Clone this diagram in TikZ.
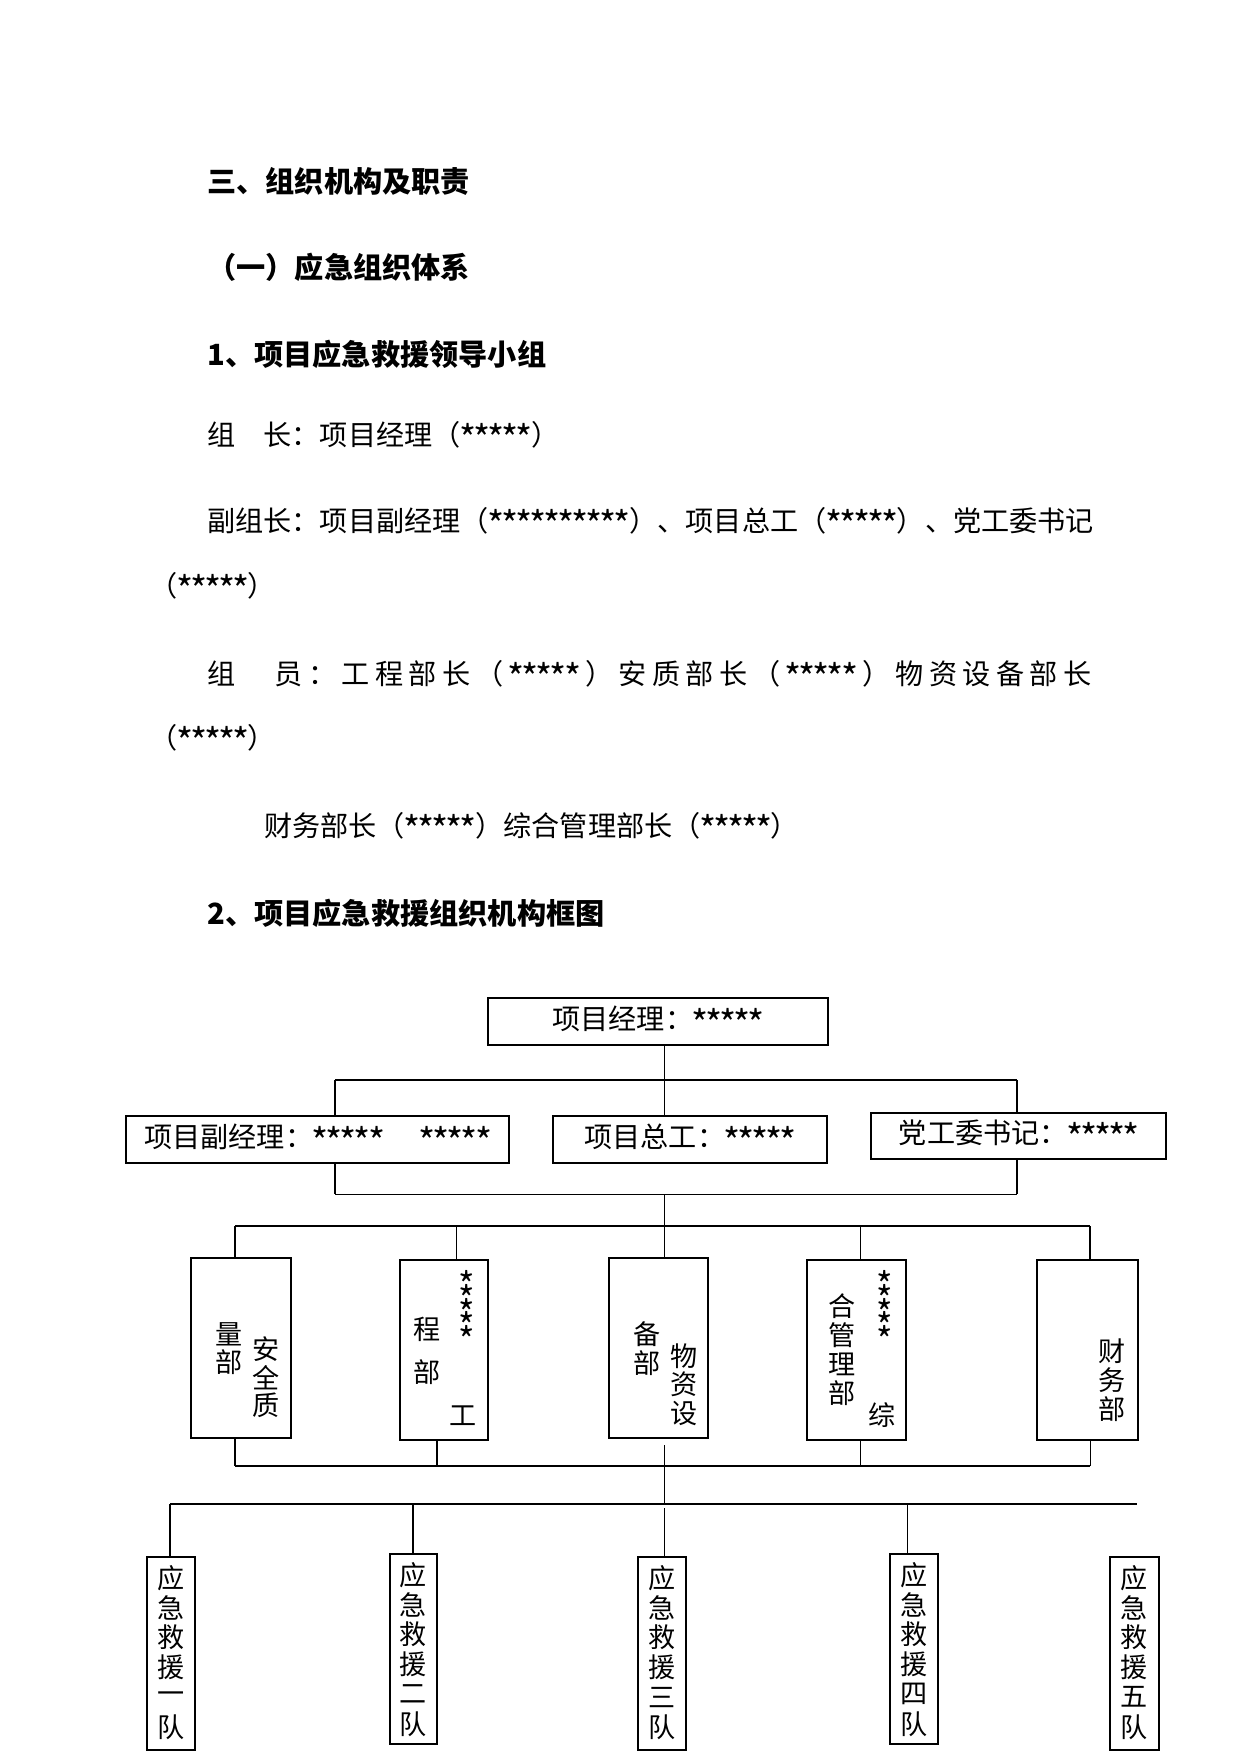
\documentclass[tikz,border=0pt]{standalone}
\usepackage{fontspec}
\setmainfont{Noto Sans CJK SC}
\usetikzlibrary{fit}
\newdimen\pxu \pxu=0.4797pt
\newcommand\xing{\makebox[.5em]{\raisebox{-.28em}{\scalebox{1.3}{*}}}}
\newcommand\wuxing{\xing\xing\xing\xing\xing}
\newcommand\sx{\hbox to .5em{\hss\smash{\raisebox{-.45em}{\scalebox{1.3}{*}}}\hss}}
\newcommand\shuxing{\vbox{\offinterlineskip\sx\vskip6.6pt\sx\vskip6.6pt\sx\vskip6.6pt\sx\vskip6.6pt\sx}}
\begin{document}
\begin{tikzpicture}[
    x=0.4797pt,
    y=-0.4797pt,
    body/.style={anchor=west, inner sep=0pt, font=\fontsize{13.5pt}{16pt}\selectfont},
    head/.style={body, font=\fontsize{14pt}{16pt}\selectfont\bfseries},
    box/.style={draw, line width=0.8pt, inner sep=0pt},
    boxtext/.style={inner sep=0pt, font=\fontsize{13.5pt}{16pt}\selectfont},
    zi/.style={inner sep=0pt, font=\fontsize{13pt}{14pt}\selectfont},
    heavy/.style={line width=0.85pt},
    mid/.style={line width=0.7pt},
    light/.style={line width=0.45pt}
  ]
    \useasboundingbox (0,0) rectangle (1241,1754);
    \node[head] (t1) at (207,181) {三、组织机构及职责};
    \node[head] (t2) at (207,267) {（一）应急组织体系};
    \node[head] (t3) at (207,354) {1、项目应急救援领导小组};
    \node[body] (t4) at (207,437) {组　长：项目经理（\wuxing）};
    \node[body] (t5) at (207,523) {副组长：项目副经理（\wuxing\wuxing）、项目总工（\wuxing）、党工委书记};
    \node[body] (t6) at (149,588) {（\wuxing）};
    \node[body] (t7) at (207,676) {\spaceskip=0pt plus 1fil\makebox[884\pxu][s]{组 　 员 ： 工 程 部 长 （ \wuxing{} ） 安 质 部 长 （ \wuxing{} ） 物 资 设 备 部 长}};
    \node[body] (t8) at (149,740) {（\wuxing）};
    \node[body] (t9) at (264,828) {财务部长（\wuxing）综合管理部长（\wuxing）};
    \node[head] (t10) at (207,913) {2、项目应急救援组织机构框图};

    \node[box, fit={(488,998) (828,1045)}] (pm) {};
    \node[box, fit={(126,1116) (509,1163)}] (fj) {};
    \node[box, fit={(553,1116) (827,1163)}] (zg) {};
    \node[box, fit={(871,1113) (1166,1159)}] (dw) {};
    \node[boxtext] (pm-t) at (pm) {项目经理：\wuxing};
    \node[boxtext] (fj-t) at (fj) {项目副经理：\wuxing\hspace{1.3em}\wuxing};
    \node[boxtext] (zg-t) at (zg) {项目总工：\wuxing};
    \node[boxtext] (dw-t) at (dw) {党工委书记：\wuxing};

    \node[box, fit={(191,1258) (291,1438)}] (aq) {};
    \node[box, fit={(400,1260) (488,1440)}] (gc) {};
    \node[box, fit={(609,1258) (708,1438)}] (wz) {};
    \node[box, fit={(807,1260) (906,1440)}] (zh) {};
    \node[box, fit={(1037,1260) (1138,1440)}] (cw) {};
    \foreach \c [count=\i] in {安,全,质}
      \node[zi] (aq-r\i) at (266,{1349+28.3*(\i-1)}) {\c};
    \foreach \c [count=\i] in {量,部}
      \node[zi] (aq-l\i) at (229,{1334+28.3*(\i-1)}) {\c};
    \node[zi] (gc-l1) at (427,1329) {程};
    \node[zi] (gc-l2) at (427,1372) {部};
    \node[zi] (gc-r) at (463,1416) {工};
    \node[zi] (gc-s) at (467,1314) {\shuxing};
    \foreach \c [count=\i] in {备,部}
      \node[zi] (wz-l\i) at (647,{1334+28.7*(\i-1)}) {\c};
    \foreach \c [count=\i] in {物,资,设}
      \node[zi] (wz-r\i) at (684,{1356+28.5*(\i-1)}) {\c};
    \foreach \c [count=\i] in {合,管,理,部}
      \node[zi] (zh-l\i) at (842,{1306+29*(\i-1)}) {\c};
    \node[zi] (zh-r) at (882,1415) {综};
    \node[zi] (zh-s) at (885,1314) {\shuxing};
    \foreach \c [count=\i] in {财,务,部}
      \node[zi] (cw-c\i) at (1112,{1351+29*(\i-1)}) {\c};

    \node[box, fit={(147,1557) (195,1750)}] (d1) {};
    \node[box, fit={(390,1554) (437,1744)}] (d2) {};
    \node[box, fit={(638,1557) (686,1750)}] (d3) {};
    \node[box, fit={(890,1554) (938,1744)}] (d4) {};
    \node[box, fit={(1110,1557) (1159,1750)}] (d5) {};
    \foreach \n/\cx/\cy [count=\k] in {一/171/1578, 二/413.5/1575, 三/662/1578, 四/914/1575, 五/1134.5/1578}
      \foreach \c [count=\i] in {应,急,救,援,\n,队}
        \node[zi] (d\k-\i) at (\cx,{\cy+29.8*(\i-1)}) {\c};

    \coordinate (aL) at (335,1080);
    \coordinate (aR) at (1017,1080);
    \coordinate (bL) at (335,1194);
    \coordinate (bR) at (1017,1194);
    \coordinate (cL) at (235,1226);
    \coordinate (cR) at (1090,1226);
    \coordinate (dL) at (235,1466);
    \coordinate (dR) at (1090,1466);
    \coordinate (eL) at (170,1504);
    \coordinate (eR) at (1137,1504);
    \coordinate (sp) at (664,1194);
    \coordinate (sq) at (664,1445);

    \draw[light] (pm.south -| sp) -- (zg.north -| sp);
    \draw[heavy] (aL) -- (aR);
    \draw[mid] (aL) -- (aL |- fj.north);
    \draw[mid] (aR) -- (aR |- dw.north);
    \draw[mid] (fj.south -| bL) -- (bL);
    \draw[mid] (dw.south -| bR) -- (bR);
    \draw[light] (bL) -- (bR);
    \draw[light] (sp) -- (sp |- cL);
    \draw[heavy] (cL) -- (cR);
    \draw[mid] (cL) -- (cL |- aq.north);
    \draw[light] (456,1226) -- (456,1226 |- gc.north);
    \draw[light] (sp |- cL) -- (sp |- wz.north);
    \draw[light] (860,1226) -- (860,1226 |- zh.north);
    \draw[mid] (cR) -- (cR |- cw.north);
    \draw[mid] (aq.south -| dL) -- (dL);
    \draw[mid] (gc.south -| 437,0) -- (437,1466);
    \draw[light] (zh.south -| 860,0) -- (860,1466);
    \draw[light] (cw.south -| dR) -- (dR);
    \draw[heavy] (dL) -- (dR);
    \draw[light] (sq) -- (sq |- eL);
    \draw[heavy] (eL) -- (eR);
    \draw[mid] (eL) -- (eL |- d1.north);
    \draw[mid] (413,1504) -- (413,1504 |- d2.north);
    \draw[light] (664,1508) -- (664,1508 |- d3.north);
    \draw[light] (907,1504) -- (907,1504 |- d4.north);
\end{tikzpicture}
\end{document}
